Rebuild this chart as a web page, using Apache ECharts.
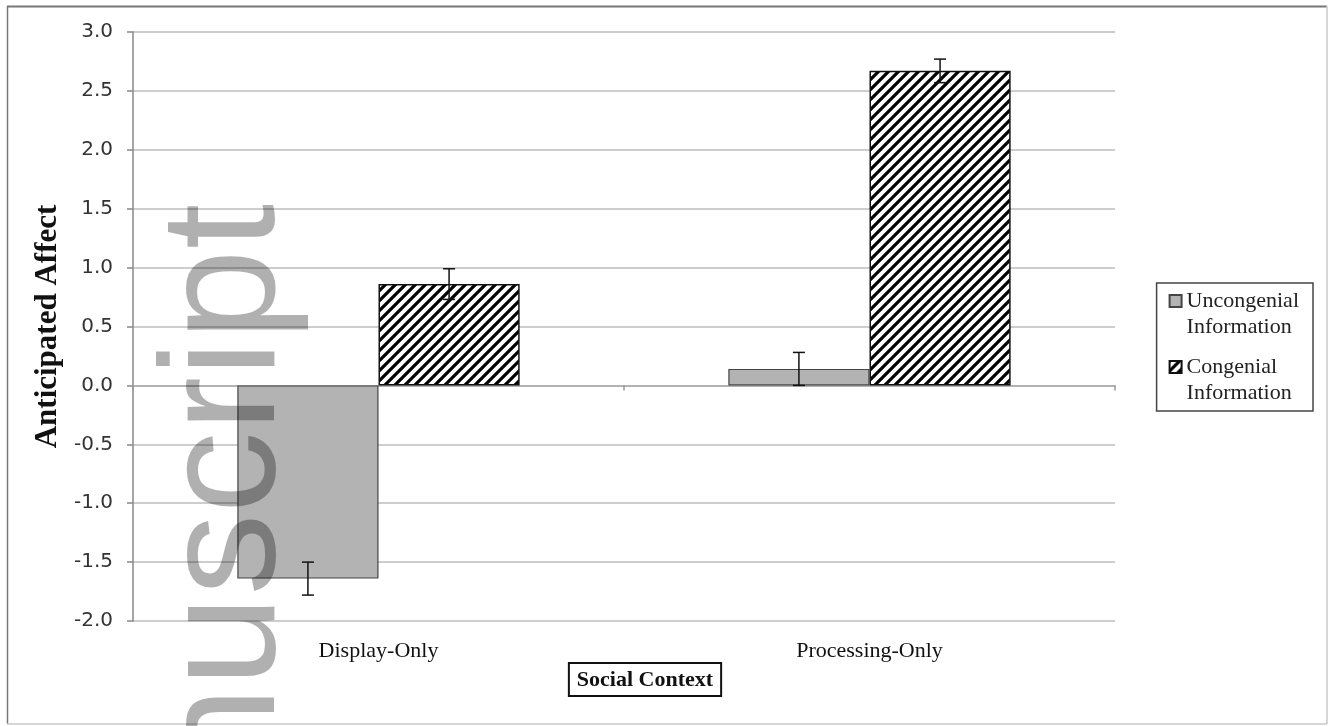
<!DOCTYPE html>
<html>
<head>
<meta charset="utf-8">
<script src="https://cdn.jsdelivr.net/npm/echarts@6/dist/echarts.min.js"></script>
<style>
  html, body { margin: 0; padding: 0; background: #fff; }
  #chart { width: 1329px; height: 726px; }
</style>
</head>
<body>
<div id="chart"></div>
<script>
// Anticipated affect by social context and information type
const categories = ['Display-Only', 'Processing-Only'];
const seriesNames = ['Uncongenial\nInformation', 'Congenial\nInformation'];
const uncongenial = [-1.64, 0.14];
const congenial = [0.86, 2.67];
const uncongenialErr = [0.14, 0.14];
const congenialErr = [0.13, 0.10];
const yTicks = { min: -2, max: 3, interval: 0.5 };
const xTitle = 'Social Context';
const yTitle = 'Anticipated Affect';

const BAR_GAP = 0.425;
const SERIF = '"Liberation Serif", "Times New Roman", serif';

// diagonal hatch tile for the congenial bars
function hatchPattern() {
  const c = document.createElement('canvas');
  c.width = 10; c.height = 10;
  const g = c.getContext('2d');
  g.fillStyle = '#fff';
  g.fillRect(0, 0, 10, 10);
  g.strokeStyle = '#000';
  g.lineWidth = 3.2;
  g.beginPath();
  g.moveTo(-5, 5);  g.lineTo(5, -5);
  g.moveTo(0, 10);  g.lineTo(10, 0);
  g.moveTo(5, 15);  g.lineTo(15, 5);
  g.stroke();
  return { image: c, repeat: 'repeat' };
}

function errorBars(values, errs, side) {
  return values.map((v, i) => [i, v - errs[i], v + errs[i], side]);
}

function renderErr(params, api) {
  const i = api.value(0);
  const lo = api.coord([i, api.value(1)]);
  const hi = api.coord([i, api.value(2)]);
  const band = api.size([1, 0])[0];
  const barW = band * (1 - BAR_GAP) / 2;
  const x = lo[0] + api.value(3) * barW / 2;
  const cap = 6;
  const style = { stroke: '#111', lineWidth: 1.5 };
  return {
    type: 'group',
    children: [
      { type: 'line', shape: { x1: x, y1: lo[1], x2: x, y2: hi[1] }, style },
      { type: 'line', shape: { x1: x - cap, y1: lo[1], x2: x + cap, y2: lo[1] }, style },
      { type: 'line', shape: { x1: x - cap, y1: hi[1], x2: x + cap, y2: hi[1] }, style }
    ]
  };
}

// legend icon: square at the top of a taller box so it sits beside the first text line
const legendIcon = 'path://M0,0L12,0L12,12L0,12Z M6,38L6,38.01';

const chart = echarts.init(document.getElementById('chart'), null, { renderer: 'canvas' });

chart.setOption({
  backgroundColor: '#fff',
  animation: false,
  grid: { left: 133, right: 214, top: 32, bottom: 105, containLabel: false },
  legend: {
    orient: 'vertical',
    right: 16,
    top: 283,
    padding: [5, 14, 5, 12],
    borderColor: '#444',
    borderWidth: 1.5,
    itemWidth: 12,
    itemHeight: 38,
    itemGap: 14,
    icon: legendIcon,
    textStyle: { fontFamily: SERIF, fontSize: 22, lineHeight: 26, color: '#222' },
    data: seriesNames
  },
  xAxis: [
    {
      type: 'category',
      data: categories,
      position: 'bottom',
      axisLine: { show: false, onZero: false },
      axisTick: { show: false },
      axisLabel: { margin: 19, fontFamily: SERIF, fontSize: 22, color: '#111' }
    },
    {
      type: 'category',
      data: categories,
      position: 'bottom',
      axisLine: { show: true, onZero: true, lineStyle: { color: '#aaa', width: 1.5 } },
      axisTick: { show: true, length: 5, lineStyle: { color: '#999', width: 1.5 } },
      axisLabel: { show: false }
    }
  ],
  yAxis: {
    type: 'value',
    min: yTicks.min,
    max: yTicks.max,
    interval: yTicks.interval,
    axisLine: { show: true, lineStyle: { color: '#888', width: 1.5 } },
    axisTick: { show: true, length: 6, lineStyle: { color: '#888', width: 1.5 } },
    axisLabel: {
      margin: 20,
      fontFamily: '"DejaVu Sans", Verdana, sans-serif',
      fontSize: 20,
      color: '#333',
      formatter: v => v.toFixed(1)
    },
    splitLine: { show: true, lineStyle: { color: '#bcbcbc', width: 1.5 } },
    name: yTitle,
    nameLocation: 'middle',
    nameGap: 70,
    nameTextStyle: { fontFamily: SERIF, fontWeight: 'bold', fontSize: 31, color: '#111' }
  },
  series: [
    {
      name: seriesNames[0],
      type: 'bar',
      data: uncongenial,
      barGap: 0,
      barCategoryGap: (BAR_GAP * 100) + '%',
      itemStyle: { color: '#b3b3b3', borderColor: '#444', borderWidth: 1.2 },
      z: 2
    },
    {
      name: seriesNames[1],
      type: 'bar',
      data: congenial,
      barGap: 0,
      barCategoryGap: (BAR_GAP * 100) + '%',
      itemStyle: { color: hatchPattern(), borderColor: '#111', borderWidth: 1.5 },
      z: 2
    },
    {
      type: 'custom',
      renderItem: renderErr,
      data: errorBars(uncongenial, uncongenialErr, -1),
      encode: { x: 0, y: [1, 2] },
      z: 5,
      silent: true
    },
    {
      type: 'custom',
      renderItem: renderErr,
      data: errorBars(congenial, congenialErr, 1),
      encode: { x: 0, y: [1, 2] },
      z: 5,
      silent: true
    }
  ],
  graphic: [
    // chart frame
    { type: 'line', shape: { x1: 7, y1: 6.5, x2: 1327, y2: 6.5 }, style: { stroke: '#777', lineWidth: 2 }, z: 50 },
    { type: 'line', shape: { x1: 7.5, y1: 6, x2: 7.5, y2: 724 }, style: { stroke: '#777', lineWidth: 1.5 }, z: 50 },
    { type: 'line', shape: { x1: 1327, y1: 6, x2: 1327, y2: 724 }, style: { stroke: '#c8c8c8', lineWidth: 1.5 }, z: 50 },
    { type: 'line', shape: { x1: 7, y1: 724, x2: 1327, y2: 724 }, style: { stroke: '#c8c8c8', lineWidth: 1.5 }, z: 50 },
    // boxed x-axis title
    {
      type: 'text',
      x: 645,
      y: 663,
      z: 50,
      style: {
        text: xTitle,
        font: 'bold 22px ' + SERIF,
        fill: '#111',
        align: 'center',
        verticalAlign: 'top',
        borderColor: '#111',
        borderWidth: 2,
        padding: [6, 8, 5, 8]
      }
    },
    // stamp
    {
      type: 'text',
      x: 229,
      y: 778,
      rotation: Math.PI / 2,
      z: 100,
      silent: true,
      style: {
        text: 'nuscript',
        font: '164px "Liberation Sans", Arial, sans-serif',
        fill: 'rgba(0,0,0,0.31)',
        align: 'left',
        verticalAlign: 'middle'
      }
    }
  ]
});
</script>
</body>
</html>
